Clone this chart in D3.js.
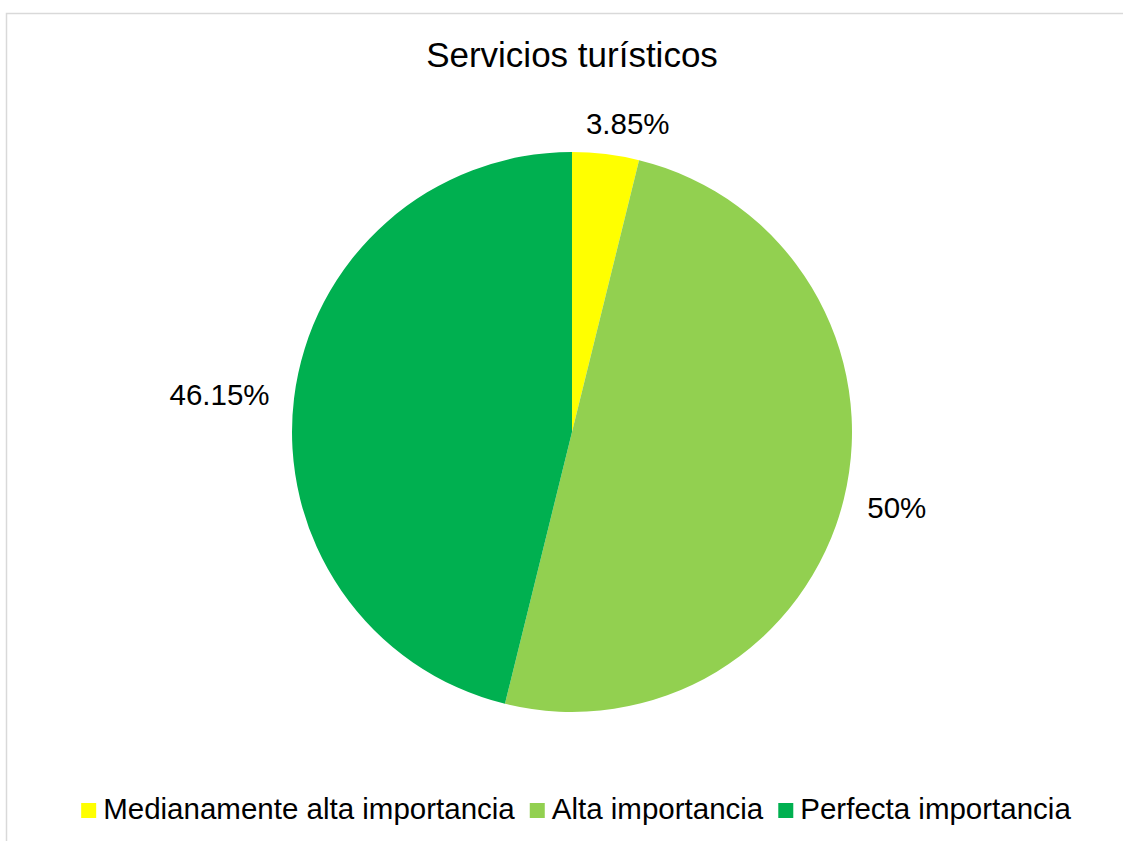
<!DOCTYPE html>
<html>
<head>
<meta charset="utf-8">
<script src="https://cdn.jsdelivr.net/npm/d3@7"></script>
<style>
  body { margin: 0; background: #fff; }
  text { font-family: "Liberation Sans", Arial, sans-serif; fill: #000; }
</style>
</head>
<body>
<div id="chart"></div>
<script>
    var width = 1123,
        height = 841;

// data
    var categories = ["Medianamente alta importancia", "Alta importancia", "Perfecta importancia"];
    var values = [3.85, 50, 46.15];
    var labels = ["3.85%", "50%", "46.15%"];
    var colors = ["#FFFF00", "#92D050", "#00B050"];

    var cx = 572, cy = 432, radius = 280, labelGap = 25;

    var svg = d3.select("#chart").append("svg")
        .attr("width", width)
        .attr("height", height);

    // chart area frame (runs off right/bottom like the original)
    svg.append("rect")
        .attr("x", 6.5).attr("y", 13.5)
        .attr("width", 1130).attr("height", 840)
        .attr("fill", "none")
        .attr("stroke", "#d9d9d9")
        .attr("stroke-width", 1.5);

    svg.append("text")
        .attr("x", cx)
        .attr("y", 67)
        .style("text-anchor", "middle")
        .style("font-size", "35px")
        .text("Servicios turísticos");

    var pie = d3.pie().sort(null).value(function (d) { return d; });
    var arcs = pie(values);
    var arc = d3.arc().innerRadius(0).outerRadius(radius);

    var g = svg.append("g").attr("transform", "translate(" + cx + "," + cy + ")");

    g.selectAll("path.slice")
        .data(arcs)
        .enter()
        .append("path")
          .attr("class", "slice")
          .attr("d", arc)
          .attr("fill", function (d, i) { return colors[i]; });

    // outside-end labels: push the text box out along the slice's mid angle
    var lbl = g.selectAll("text.lbl")
        .data(arcs)
        .enter()
        .append("text")
          .attr("class", "lbl")
          .style("font-size", "29.5px")
          .style("text-anchor", "middle")
          .text(function (d, i) { return labels[i]; });

    lbl.each(function (d) {
        var t = d3.select(this);
        var w = this.getComputedTextLength(), h = 20;
        var a = (d.startAngle + d.endAngle) / 2;
        var r = radius + labelGap;
        var x = r * Math.sin(a) + (w / 2) * Math.sin(a);
        var y = -r * Math.cos(a) - (h / 2) * Math.cos(a);
        // tiny slices: Excel nudges the label a bit sideways
        if (d.endAngle - d.startAngle < 0.4) { x += w / 6; y += 4; }
        t.attr("x", x).attr("y", y + 11);
    });

    // legend, centred under the pie
    var legend = svg.append("g");
    var items = legend.selectAll("g.item")
        .data(categories)
        .enter()
        .append("g")
          .attr("class", "item");

    items.append("rect")
        .attr("width", 15).attr("height", 15)
        .attr("y", 803)
        .attr("fill", function (d, i) { return colors[i]; });

    items.append("text")
        .attr("x", 22)
        .attr("y", 819)
        .style("font-size", "29.5px")
        .text(function (d) { return d; });

    var xpos = 0, offsets = [];
    items.each(function () {
        offsets.push(xpos);
        xpos += 22 + d3.select(this).select("text").node().getComputedTextLength() + 15;
    });
    var total = xpos - 15;
    var start = 576 - total / 2;
    items.attr("transform", function (d, i) { return "translate(" + (start + offsets[i]) + ",0)"; });
</script>
</body>
</html>
